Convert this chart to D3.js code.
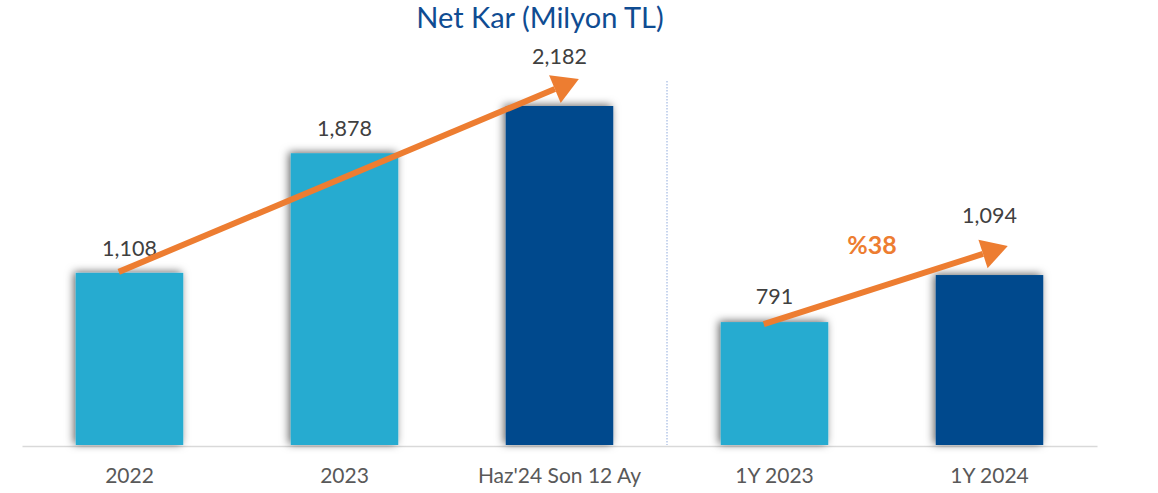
<!DOCTYPE html>
<html><head><meta charset="utf-8">
<script src="https://cdn.jsdelivr.net/npm/d3@7"></script>
<style>
html,body{margin:0;padding:0;background:#fff;}
svg{display:block;font-family:Lato, "Open Sans", sans-serif;}
</style></head>
<body><svg id="chart" width="1158" height="493"></svg>
<script>
const title = "Net Kar (Milyon TL)";
const categories = ["2022", "2023", "Haz'24 Son 12 Ay", "1Y 2023", "1Y 2024"];
const values = [1108, 1878, 2182, 791, 1094];
const tones = ["light", "light", "dark", "light", "dark"];
const growthLabel = "%38";
const groupSplitAfter = 2; // separator between index 2 and 3

const W = 1158, H = 493;
const baseY = 445;
const colors = {light: "#27abd0", dark: "#014a8d", orange: "#ed7d31", title: "#0f4c92"};
const labelLift = [17, 17, 42, 18, 52];

const svg = d3.select("#chart");
const defs = svg.append("defs");
const f = defs.append("filter").attr("id","sh").attr("x","-30%").attr("y","-30%").attr("width","160%").attr("height","160%");
f.append("feDropShadow").attr("dx",-2).attr("dy",-1).attr("stdDeviation",4).attr("flood-color","#000").attr("flood-opacity",0.6);

const x = d3.scaleBand().domain(categories).range([22, 1097]).paddingInner(0.5).paddingOuter(0.25);
const y = d3.scaleLinear().domain([0, 2182]).range([baseY, 106]);

// axis baseline
const xAxis = d3.axisBottom(x).tickSize(0).tickPadding(22);
const gx = svg.append("g").attr("transform", `translate(0,${baseY + 1})`).call(xAxis);
gx.select(".domain").attr("stroke", "#d9d9d9").attr("stroke-width", 1.5);
gx.selectAll(".tick text").attr("font-size", 21).attr("fill", "#595959").attr("font-family", "Lato, sans-serif");

// separator
const sepX = (x(categories[groupSplitAfter]) + x.bandwidth() + x(categories[groupSplitAfter + 1])) / 2;
svg.append("line").attr("x1", sepX).attr("x2", sepX).attr("y1", 81).attr("y2", baseY)
  .attr("stroke", "#8faadc").attr("stroke-width", 1).attr("stroke-dasharray", "1.5,1.5");

// bars
svg.append("g").selectAll("rect").data(values).join("rect")
  .attr("x", (d, i) => x(categories[i]))
  .attr("y", d => y(d))
  .attr("width", x.bandwidth())
  .attr("height", d => baseY - y(d))
  .attr("fill", (d, i) => colors[tones[i]])
  .attr("filter", "url(#sh)");

// value labels
svg.append("g").selectAll("text").data(values).join("text")
  .attr("x", (d, i) => x(categories[i]) + x.bandwidth() / 2)
  .attr("y", (d, i) => y(d) - labelLift[i])
  .attr("text-anchor", "middle")
  .attr("font-size", 21.5)
  .attr("fill", "#404040")
  .text(d => d3.format(",")(d));

// title
svg.append("text").attr("x", 540).attr("y", 28).attr("text-anchor", "middle")
  .attr("font-size", 29).attr("fill", colors.title).text(title);

// arrows
function arrow(x1, y1, x2, y2) {
  const ang = Math.atan2(y2 - y1, x2 - x1);
  const headL = 26, headW = 15;
  const bx = x2 - headL * Math.cos(ang), by = y2 - headL * Math.sin(ang);
  svg.append("line").attr("x1", x1).attr("y1", y1).attr("x2", bx).attr("y2", by)
    .attr("stroke", colors.orange).attr("stroke-width", 6);
  const px = -Math.sin(ang), py = Math.cos(ang);
  svg.append("path")
    .attr("d", `M${x2},${y2}L${bx + px * headW},${by + py * headW}L${bx - px * headW},${by - py * headW}Z`)
    .attr("fill", colors.orange);
}
const bw = x.bandwidth();
arrow(x(categories[0]) + bw * 0.4, y(values[0]) - 1, x(categories[2]) + bw * 0.68, y(values[2]) - 27);
arrow(x(categories[3]) + bw * 0.4, y(values[3]) + 2, x(categories[4]) + bw * 0.67, y(values[4]) - 29);

svg.append("text")
  .attr("x", (x(categories[3]) + x(categories[4]) + bw) / 2 - 10)
  .attr("y", 254).attr("text-anchor", "middle")
  .attr("font-size", 25).attr("font-weight", "bold").attr("fill", colors.orange)
  .text(growthLabel);
</script></body></html>
